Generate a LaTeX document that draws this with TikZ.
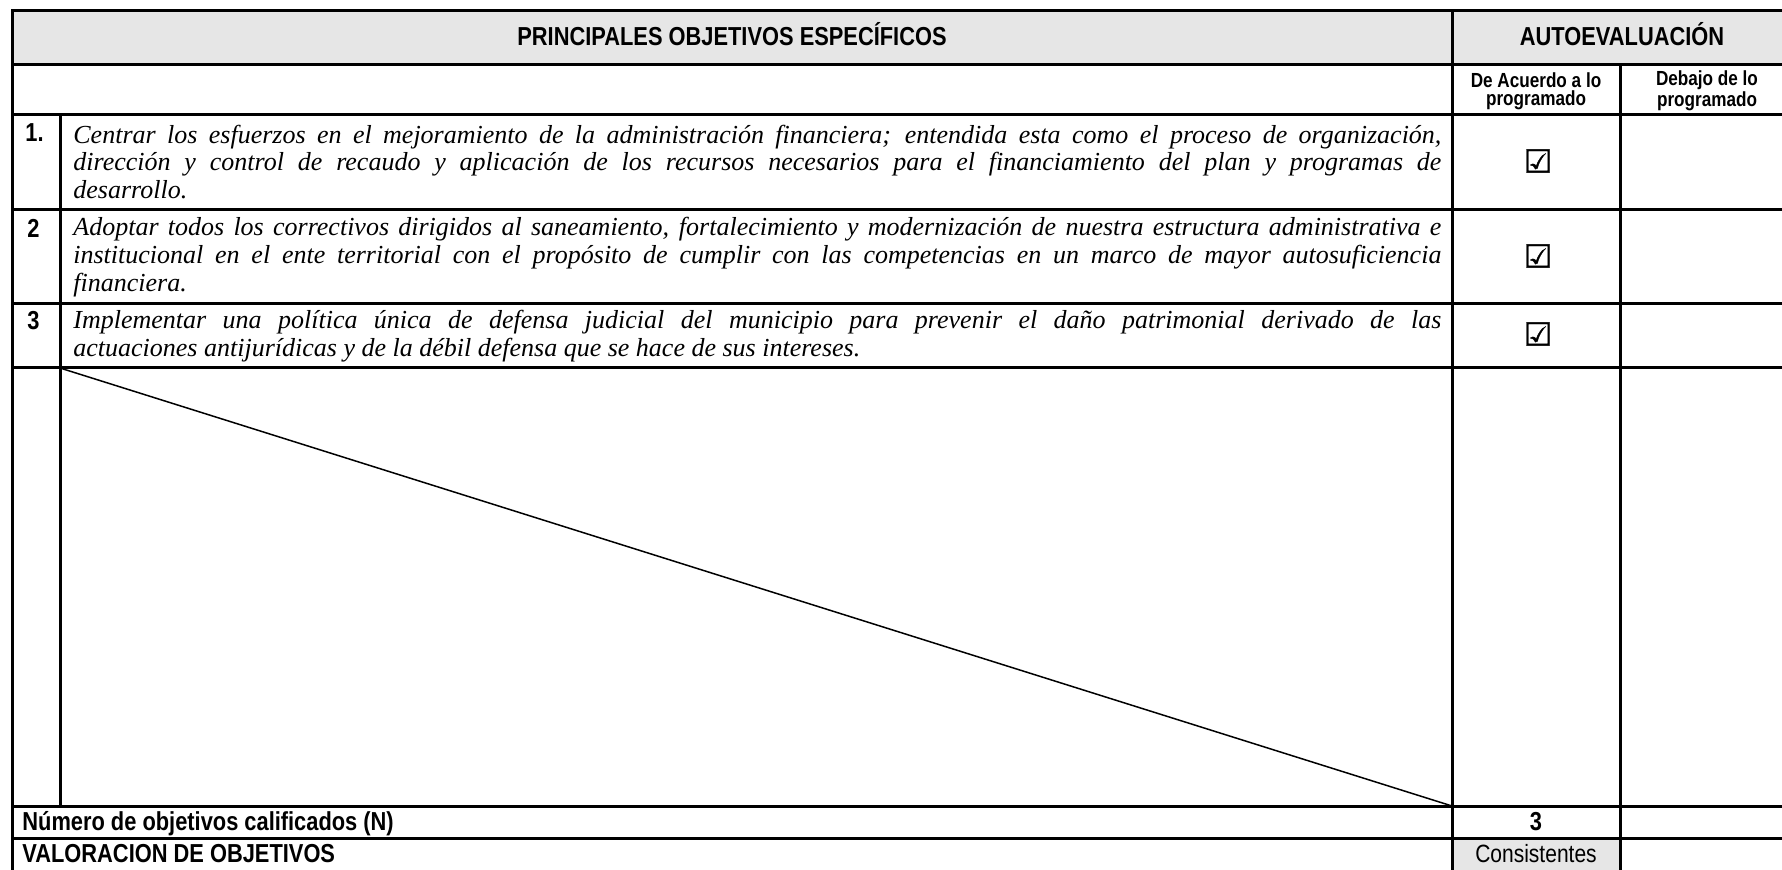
\documentclass[tikz,border=0pt]{standalone}
\usepackage{fontspec}
\usepackage{graphicx}
\setmainfont{Liberation Serif}
\newfontfamily\nsans[FakeStretch=0.84]{Liberation Sans}
\newfontfamily\djv[FakeBold=1.2]{DejaVu Sans}
\definecolor{hdrgray}{RGB}{230,230,230}
\newlength\linew
\setlength\linew{684pt}
\newsavebox\jbox
\newcommand\jline[1]{\spaceskip=0pt\xspaceskip=0pt\sbox\jbox{#1}\ifdim\wd\jbox>\linew\resizebox{\linew}{\height}{\usebox\jbox}\else\makebox[\linew][s]{#1}\fi}
\newcommand\lline[1]{\makebox[\linew][l]{#1}}
\tikzset{
  grid/.style={line width=1.5pt, line cap=rect},
  diag/.style={line width=0.75pt},
  para/.style={anchor=west, inner sep=0pt, text width=684pt, align=left,
     font=\fontsize{13}{13.9}\selectfont\itshape},
  hdr/.style={anchor=base, inner sep=0pt, font=\nsans\bfseries\fontsize{13}{14}\selectfont},
  sub/.style={inner sep=0pt, align=center, font=\nsans\bfseries\fontsize{10.2}{8.8}\selectfont},
  num/.style={anchor=base west, inner sep=0pt, font=\nsans\bfseries\fontsize{13}{14}\selectfont},
  foot/.style={anchor=base west, inner sep=0pt, font=\nsans\bfseries\fontsize{13}{14}\selectfont},
  cell/.style={inner sep=0pt, font=\nsans\fontsize{12.5}{14}\selectfont},
  chk/.style={inner sep=0pt, font=\djv\fontsize{16}{17}\selectfont}
}
\begin{document}
\begin{tikzpicture}[x=0.5pt, y=-0.5pt]
\useasboundingbox (0,0) rectangle (1782,870);
\clip (0,0) rectangle (1782,870);
% fills
\fill[hdrgray] (12,11) rectangle (1800,65);
\fill[hdrgray] (1452,838) rectangle (1620,880);
% grid
\draw[grid] (12,880) -- (12,11) -- (1800,11);
\foreach \yy in {65,115,210,304,368,806,838} \draw[grid] (12,\yy) -- (1800,\yy);
\draw[grid] (60,115) -- (60,806);
\draw[grid] (1452,11) -- (1452,880);
\draw[grid] (1620,65) -- (1620,880);
% diagonal
\coordinate (dA) at (60,368);
\coordinate (dB) at (1452,806);
\draw[diag] (dA) -- (dB);
% header
\node[hdr] (h1) at (732,46) {PRINCIPALES OBJETIVOS ESPECÍFICOS};
\node[hdr] (h2) at (1622,46) {AUTOEVALUACIÓN};
\node[sub] (s1) at (1536,91) {De Acuerdo a lo\\programado};
\node[sub] (s2) at (1707,91) {Debajo de lo\\programado};
% numbers
\node[num] (n1) at (25,142) {1.};
\node[num] (n2) at (27,238) {2};
\node[num] (n3) at (27,330) {3};
% paragraphs
\node[para] (p1) at (73,162) {\jline{Centrar los esfuerzos en el mejoramiento de la administración financiera; entendida esta como el proceso de organización,}\\\jline{dirección y control de recaudo y aplicación de los recursos necesarios para el financiamiento del plan y programas de}\\\lline{desarrollo.}};
\node[para] (p2) at (73,257) {\jline{Adoptar todos los correctivos dirigidos al saneamiento, fortalecimiento y modernización de nuestra estructura administrativa e}\\\jline{institucional en el ente territorial con el propósito de cumplir con las competencias en un marco de mayor autosuficiencia}\\\lline{financiera.}};
\node[para] (p3) at (73,336) {\jline{Implementar una política única de defensa judicial del municipio para prevenir el daño patrimonial derivado de las}\\\lline{actuaciones antijurídicas y de la débil defensa que se hace de sus intereses.}};
% checks
\node[chk] (c1) at (1538,161) {☑};
\node[chk] (c2) at (1538,256) {☑};
\node[chk] (c3) at (1538,334) {☑};
% footer
\node[foot] (f1) at (22,830) {Número de objetivos calificados (N)};
\node[foot] (f2) at (22,862) {VALORACION DE OBJETIVOS};
\node[cell, font=\nsans\bfseries\fontsize{13}{14}\selectfont] (v1) at (1536,822) {3};
\node[cell] (v2) at (1536,854) {Consistentes};
\end{tikzpicture}
\end{document}
